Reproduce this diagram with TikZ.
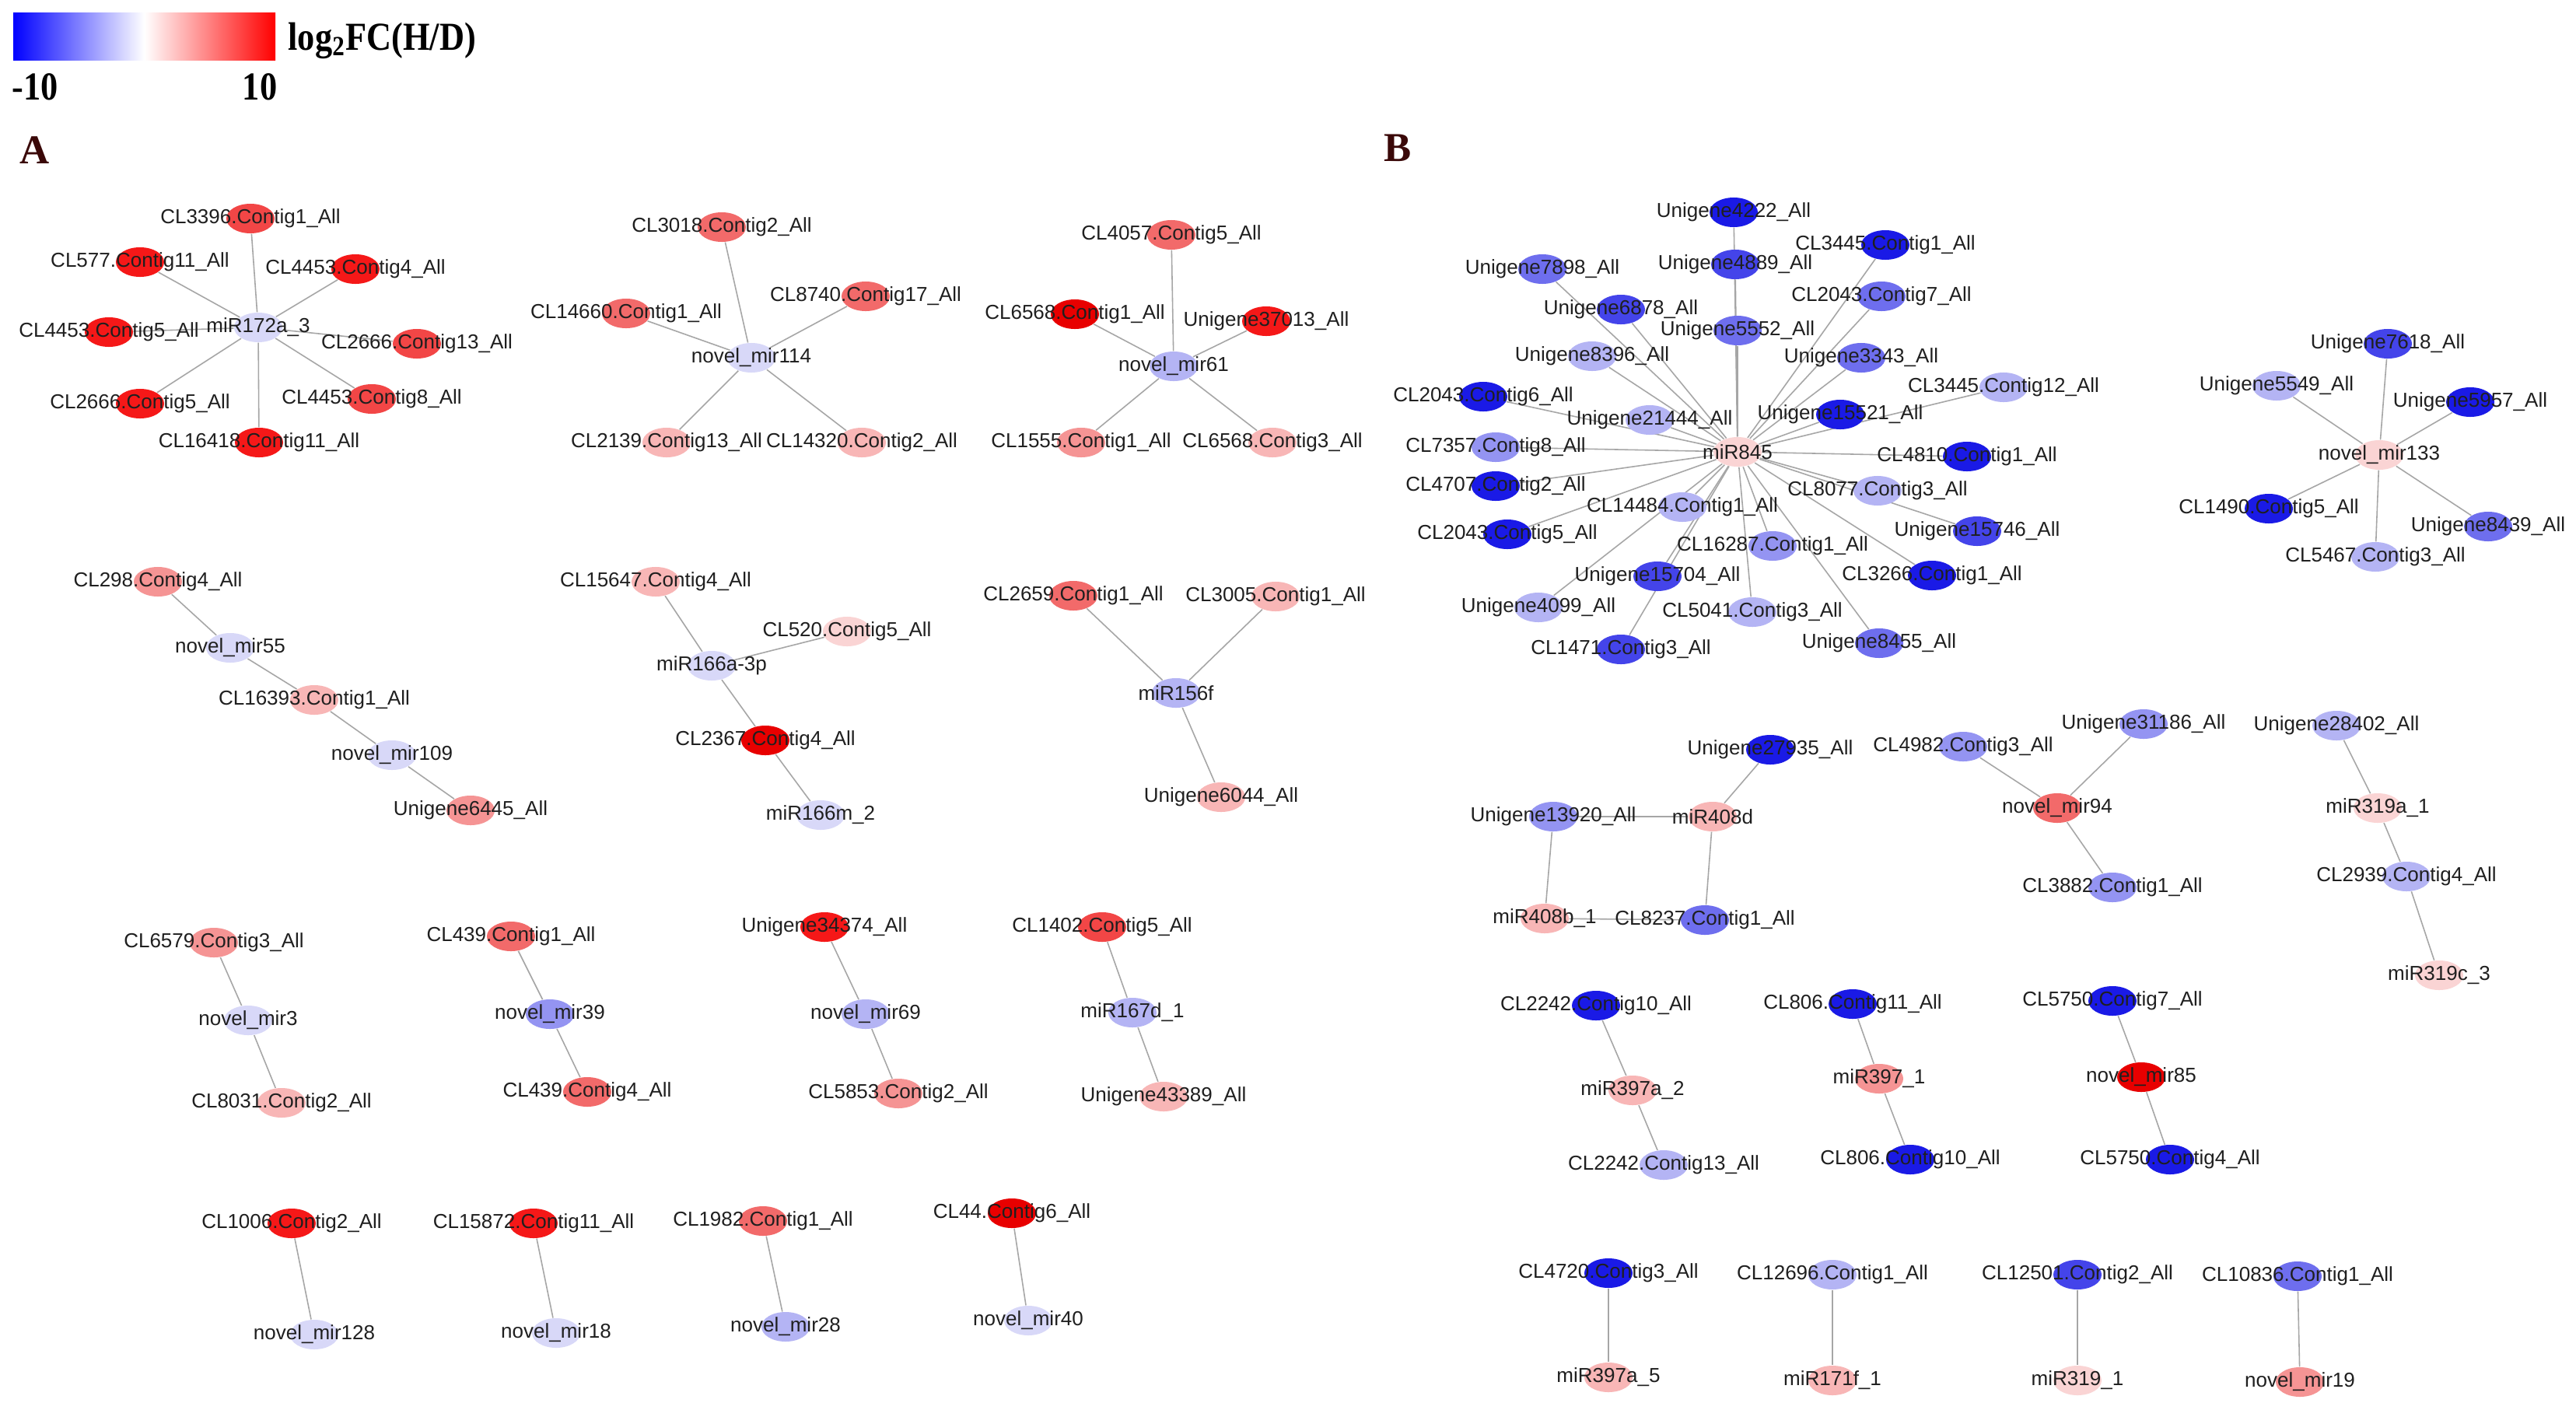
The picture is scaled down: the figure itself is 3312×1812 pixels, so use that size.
\documentclass[tikz,border=0pt]{standalone}
\usepackage{fontspec}
\setmainfont{Liberation Sans}
\newfontfamily\serifb{Liberation Serif}
\usetikzlibrary{shapes.geometric}
\pgfdeclarelayer{edgelayer}
\pgfdeclarelayer{bglayer}
\pgfsetlayers{bglayer,edgelayer,main}
\definecolor{R0}{HTML}{E80000}
\definecolor{R1}{HTML}{F51818}
\definecolor{R2}{HTML}{F24646}
\definecolor{R3}{HTML}{F26A6A}
\definecolor{R4}{HTML}{F59494}
\definecolor{R5}{HTML}{F8B6B6}
\definecolor{R6}{HTML}{FAD4D4}
\definecolor{B1}{HTML}{1A1AE6}
\definecolor{B2}{HTML}{4444EA}
\definecolor{B3}{HTML}{6E6EEE}
\definecolor{B4}{HTML}{9494F2}
\definecolor{B5}{HTML}{B4B4F4}
\definecolor{B6}{HTML}{D8D8F8}
\definecolor{panelcol}{HTML}{3A0808}
\tikzset{
  gene/.style={ellipse, minimum width=0.62cm, minimum height=0.38cm, inner sep=0pt, draw=none},
  lbl/.style={font=\fontsize{7.4}{8}\selectfont, text=black!88, inner sep=0pt},
  link/.style={draw=gray!70, line width=0.45pt},
  legtxt/.style={font=\serifb\bfseries\fontsize{14.5}{16}\selectfont, inner sep=0pt, xscale=0.87},
  paneltxt/.style={font=\serifb\bfseries\fontsize{15}{17}\selectfont, text=panelcol, inner sep=0pt},
}
\newcommand\gn[5]{\node[gene,fill=#4] (#1) at (#2,#3) {};\node[lbl] (#1t) at (#1.center) {#5};}
\begin{document}
\begin{tikzpicture}[x=0.01cm,y=-0.01cm]
\begin{pgfonlayer}{bglayer}
\fill[white] (0,0) rectangle (3312,1812);
\end{pgfonlayer}
\useasboundingbox (0,0) rectangle (3312,1812);
% legend
\shade[left color=blue, right color=red, middle color=white] (17,16) rectangle (354,77);
\node[legtxt, anchor=west] (legtitle) at (370,52) {log\textsubscript{2}FC(H/D)};
\node[legtxt] (legmin) at (45,112) {-10};
\node[legtxt] (legmax) at (334,112) {10};
\node[paneltxt] (panA) at (45,193) {A};
\node[paneltxt] (panB) at (1797,190) {B};
% ---------------- Panel A ----------------
\gn{h1}{332}{421}{B6}{miR172a\_3}
\gn{a1}{322}{281}{R2}{CL3396.Contig1\_All}
\gn{a2}{180}{337}{R1}{CL577.Contig11\_All}
\gn{a3}{457}{346}{R1}{CL4453.Contig4\_All}
\gn{a4}{140}{427}{R1}{CL4453.Contig5\_All}
\gn{a5}{536}{442}{R2}{CL2666.Contig13\_All}
\gn{a6}{180}{519}{R1}{CL2666.Contig5\_All}
\gn{a7}{478}{513}{R2}{CL4453.Contig8\_All}
\gn{a8}{333}{569}{R1}{CL16418.Contig11\_All}
\gn{h2}{966}{460}{B6}{novel\_mir114}
\gn{b1}{928}{292}{R3}{CL3018.Contig2\_All}
\gn{b2}{805}{403}{R3}{CL14660.Contig1\_All}
\gn{b3}{1113}{381}{R3}{CL8740.Contig17\_All}
\gn{b4}{857}{569}{R5}{CL2139.Contig13\_All}
\gn{b5}{1108}{569}{R5}{CL14320.Contig2\_All}
\gn{h3}{1509}{471}{B5}{novel\_mir61}
\gn{c1}{1506}{302}{R3}{CL4057.Contig5\_All}
\gn{c2}{1382}{404}{R0}{CL6568.Contig1\_All}
\gn{c3}{1628}{413}{R1}{Unigene37013\_All}
\gn{c4}{1390}{569}{R4}{CL1555.Contig1\_All}
\gn{c5}{1636}{569}{R5}{CL6568.Contig3\_All}
\gn{d1}{203}{748}{R4}{CL298.Contig4\_All}
\gn{d2}{296}{833}{B6}{novel\_mir55}
\gn{d3}{404}{900}{R5}{CL16393.Contig1\_All}
\gn{d4}{504}{971}{B6}{novel\_mir109}
\gn{d5}{605}{1042}{R4}{Unigene6445\_All}
\gn{e1}{843}{748}{R5}{CL15647.Contig4\_All}
\gn{e2}{915}{856}{B6}{miR166a-3p}
\gn{e3}{1089}{812}{R6}{CL520.Contig5\_All}
\gn{e4}{984}{952}{R0}{CL2367.Contig4\_All}
\gn{e5}{1055}{1048}{B6}{miR166m\_2}
\gn{f1}{1380}{766}{R3}{CL2659.Contig1\_All}
\gn{f2}{1640}{767}{R5}{CL3005.Contig1\_All}
\gn{f3}{1512}{891}{B5}{miR156f}
\gn{f4}{1570}{1025}{R5}{Unigene6044\_All}
\gn{g1}{275}{1212}{R4}{CL6579.Contig3\_All}
\gn{g2}{319}{1312}{B6}{novel\_mir3}
\gn{g3}{362}{1418}{R5}{CL8031.Contig2\_All}
\gn{i1}{657}{1204}{R3}{CL439.Contig1\_All}
\gn{i2}{707}{1304}{B4}{novel\_mir39}
\gn{i3}{755}{1404}{R3}{CL439.Contig4\_All}
\gn{j1}{1060}{1192}{R1}{Unigene34374\_All}
\gn{j2}{1113}{1304}{B5}{novel\_mir69}
\gn{j3}{1155}{1406}{R4}{CL5853.Contig2\_All}
\gn{k1}{1417}{1192}{R2}{CL1402.Contig5\_All}
\gn{k2}{1456}{1302}{B5}{miR167d\_1}
\gn{k3}{1496}{1410}{R5}{Unigene43389\_All}
\gn{l1}{375}{1573}{R1}{CL1006.Contig2\_All}
\gn{l2}{404}{1716}{B6}{novel\_mir128}
\gn{m1}{686}{1573}{R1}{CL15872.Contig11\_All}
\gn{m2}{715}{1714}{B6}{novel\_mir18}
\gn{n1}{981}{1570}{R3}{CL1982.Contig1\_All}
\gn{n2}{1010}{1706}{B5}{novel\_mir28}
\gn{o1}{1301}{1560}{R0}{CL44.Contig6\_All}
\gn{o2}{1322}{1698}{B6}{novel\_mir40}
% ---------------- Panel B ----------------
\gn{H}{2234}{581}{R6}{miR845}
\gn{s1}{2229}{273}{B1}{Unigene4222\_All}
\gn{s2}{2231}{340}{B2}{Unigene4889\_All}
\gn{s3}{2234}{425}{B3}{Unigene5552\_All}
\gn{s4}{2424}{315}{B1}{CL3445.Contig1\_All}
\gn{s5}{2419}{381}{B3}{CL2043.Contig7\_All}
\gn{s6}{2393}{460}{B3}{Unigene3343\_All}
\gn{s7}{2366}{533}{B1}{Unigene15521\_All}
\gn{s8}{2576}{498}{B5}{CL3445.Contig12\_All}
\gn{s9}{2529}{587}{B1}{CL4810.Contig1\_All}
\gn{s10}{1983}{346}{B3}{Unigene7898\_All}
\gn{s11}{2084}{398}{B2}{Unigene6878\_All}
\gn{s12}{2047}{458}{B5}{Unigene8396\_All}
\gn{s13}{1907}{510}{B1}{CL2043.Contig6\_All}
\gn{s14}{2121}{540}{B5}{Unigene21444\_All}
\gn{s15}{1923}{575}{B4}{CL7357.Contig8\_All}
\gn{s16}{1923}{625}{B1}{CL4707.Contig2\_All}
\gn{s17}{2163}{652}{B5}{CL14484.Contig1\_All}
\gn{s18}{1938}{687}{B1}{CL2043.Contig5\_All}
\gn{s19}{2279}{702}{B4}{CL16287.Contig1\_All}
\gn{s20}{2131}{741}{B2}{Unigene15704\_All}
\gn{s21}{1978}{781}{B5}{Unigene4099\_All}
\gn{s22}{2253}{787}{B5}{CL5041.Contig3\_All}
\gn{s23}{2084}{835}{B2}{CL1471.Contig3\_All}
\gn{s24}{2414}{631}{B5}{CL8077.Contig3\_All}
\gn{s25}{2542}{683}{B2}{Unigene15746\_All}
\gn{s26}{2484}{740}{B1}{CL3266.Contig1\_All}
\gn{s27}{2416}{827}{B3}{Unigene8455\_All}
\gn{H2}{3059}{585}{R6}{novel\_mir133}
\gn{t1}{3070}{442}{B2}{Unigene7618\_All}
\gn{t2}{2927}{496}{B5}{Unigene5549\_All}
\gn{t3}{3176}{517}{B1}{Unigene5957\_All}
\gn{t4}{2917}{654}{B1}{CL1490.Contig5\_All}
\gn{t5}{3199}{677}{B3}{Unigene8439\_All}
\gn{t6}{3054}{716}{B5}{CL5467.Contig3\_All}
\gn{u1}{2276}{964}{B1}{Unigene27935\_All}
\gn{u2}{2202}{1050}{R5}{miR408d}
\gn{u3}{1997}{1050}{B4}{Unigene13920\_All}
\gn{u4}{1986}{1181}{R5}{miR408b\_1}
\gn{u5}{2192}{1183}{B3}{CL8237.Contig1\_All}
\gn{v1}{2524}{960}{B4}{CL4982.Contig3\_All}
\gn{v2}{2756}{931}{B4}{Unigene31186\_All}
\gn{v3}{2645}{1039}{R3}{novel\_mir94}
\gn{v4}{2716}{1141}{B4}{CL3882.Contig1\_All}
\gn{w1}{3004}{933}{B5}{Unigene28402\_All}
\gn{w2}{3057}{1039}{R6}{miR319a\_1}
\gn{w3}{3094}{1127}{B5}{CL2939.Contig4\_All}
\gn{w4}{3136}{1254}{R6}{miR319c\_3}
\gn{x1}{2052}{1293}{B1}{CL2242.Contig10\_All}
\gn{x2}{2099}{1402}{R5}{miR397a\_2}
\gn{x3}{2139}{1498}{B5}{CL2242.Contig13\_All}
\gn{y1}{2382}{1291}{B1}{CL806.Contig11\_All}
\gn{y2}{2416}{1387}{R4}{miR397\_1}
\gn{y3}{2456}{1491}{B1}{CL806.Contig10\_All}
\gn{z1}{2716}{1287}{B1}{CL5750.Contig7\_All}
\gn{z2}{2753}{1385}{R0}{novel\_mir85}
\gn{z3}{2790}{1491}{B1}{CL5750.Contig4\_All}
\gn{p1}{2068}{1637}{B1}{CL4720.Contig3\_All}
\gn{p2}{2068}{1771}{R5}{miR397a\_5}
\gn{q1}{2356}{1639}{B5}{CL12696.Contig1\_All}
\gn{q2}{2356}{1775}{R5}{miR171f\_1}
\gn{r1}{2671}{1639}{B2}{CL12501.Contig2\_All}
\gn{r2}{2671}{1775}{R6}{miR319\_1}
\gn{r3}{2954}{1641}{B3}{CL10836.Contig1\_All}
\gn{r4}{2957}{1777}{R4}{novel\_mir19}
% ---------------- edges ----------------
\begin{pgfonlayer}{edgelayer}
\foreach \a/\b in {h1/a1,h1/a2,h1/a3,h1/a4,h1/a5,h1/a6,h1/a7,h1/a8,
  h2/b1,h2/b2,h2/b3,h2/b4,h2/b5,
  h3/c1,h3/c2,h3/c3,h3/c4,h3/c5,
  d1/d2,d2/d3,d3/d4,d4/d5,
  e1/e2,e3/e2,e2/e4,e4/e5,
  f1/f3,f2/f3,f3/f4,
  g1/g2,g2/g3,i1/i2,i2/i3,j1/j2,j2/j3,k1/k2,k2/k3,
  l1/l2,m1/m2,n1/n2,o1/o2,
  H/s1,H/s2,H/s3,H/s4,H/s5,H/s6,H/s7,H/s8,H/s9,H/s10,H/s11,H/s12,H/s13,H/s14,
  H/s15,H/s16,H/s17,H/s18,H/s19,H/s20,H/s21,H/s22,H/s23,H/s24,H/s25,H/s26,H/s27,
  H2/t1,H2/t2,H2/t3,H2/t4,H2/t5,H2/t6,
  u1/u2,u3/u2,u3/u4,u2/u5,u4/u5,
  v1/v3,v2/v3,v3/v4,
  w1/w2,w2/w3,w3/w4,
  x1/x2,x2/x3,y1/y2,y2/y3,z1/z2,z2/z3,
  p1/p2,q1/q2,r1/r2,r3/r4}
  \draw[link] (\a) -- (\b);
\end{pgfonlayer}
\end{tikzpicture}
\end{document}
